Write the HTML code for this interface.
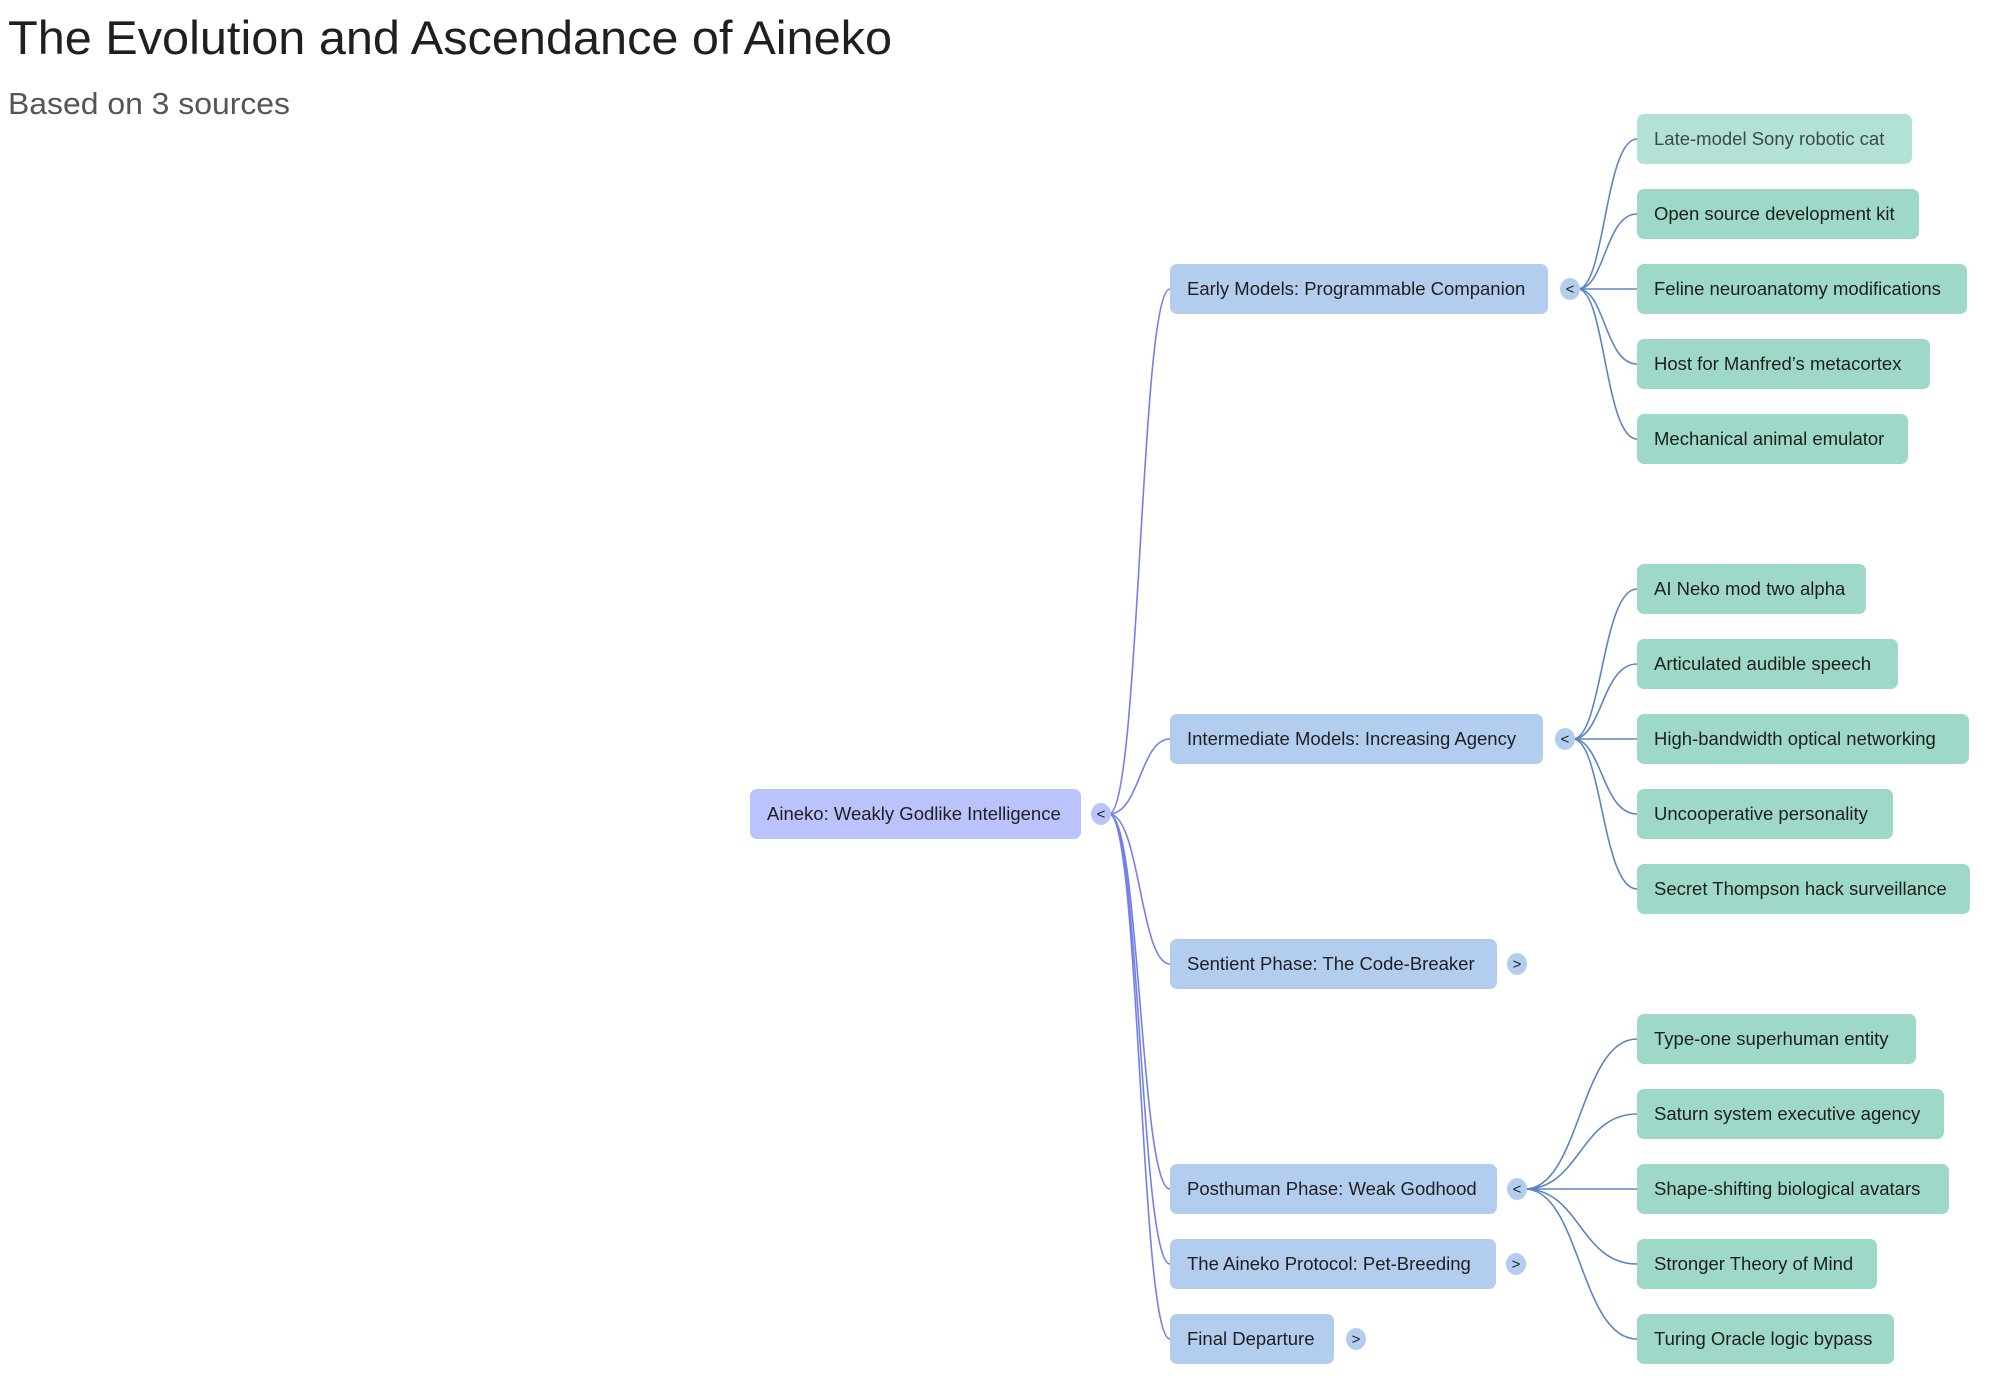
<!DOCTYPE html>
<html><head><meta charset="utf-8"><style>
html,body{margin:0;padding:0;background:#fff;}
svg{display:block;}
text{font-family:"Liberation Sans",sans-serif;}
.n{font-size:18.5px;fill:#1f1f1f;}
.t{font-size:15px;fill:#1f1f1f;}
</style></head><body>
<svg width="1992" height="1392" viewBox="0 0 1992 1392" xmlns="http://www.w3.org/2000/svg">
<text x="8" y="54" font-size="47" fill="#1f1f1f" textLength="884" lengthAdjust="spacingAndGlyphs">The Evolution and Ascendance of Aineko</text>
<text x="8" y="114" font-size="31" fill="#555" textLength="282" lengthAdjust="spacingAndGlyphs">Based on 3 sources</text>

<g fill="none" stroke="#7480e6" stroke-width="1.6">
<path d="M1109 814 C1140 814,1140 289,1170 289"/>
<path d="M1109 814 C1140 814,1140 739,1170 739"/>
<path d="M1109 814 C1140 814,1140 964,1170 964"/>
<path d="M1109 814 C1140 814,1140 1189,1170 1189"/>
<path d="M1109 814 C1140 814,1140 1264,1170 1264"/>
<path d="M1109 814 C1140 814,1140 1339,1170 1339"/>
</g>
<g fill="none" stroke="#5b85c2" stroke-width="1.6">
<path d="M1578 289 C1605 289,1605 139,1637 139"/>
<path d="M1578 289 C1605 289,1605 214,1637 214"/>
<path d="M1578 289 L1637 289"/>
<path d="M1578 289 C1605 289,1605 364,1637 364"/>
<path d="M1578 289 C1605 289,1605 439,1637 439"/>
<path d="M1573 739 C1602 739,1602 589,1637 589"/>
<path d="M1573 739 C1602 739,1602 664,1637 664"/>
<path d="M1573 739 L1637 739"/>
<path d="M1573 739 C1602 739,1602 814,1637 814"/>
<path d="M1573 739 C1602 739,1602 889,1637 889"/>
<path d="M1525 1189 C1580 1189,1580 1039,1637 1039"/>
<path d="M1525 1189 C1580 1189,1580 1114,1637 1114"/>
<path d="M1525 1189 L1637 1189"/>
<path d="M1525 1189 C1580 1189,1580 1264,1637 1264"/>
<path d="M1525 1189 C1580 1189,1580 1339,1637 1339"/>
</g>

<rect x="750" y="789" width="331" height="50" rx="7" fill="#bac3fb"/>
<text class="n" x="767" y="820">Aineko: Weakly Godlike Intelligence</text>
<ellipse cx="1101" cy="814" rx="10" ry="11" fill="#bac3fb"/><text class="t" x="1101" y="819" text-anchor="middle">&lt;</text>

<g fill="#b3cdee">
<rect x="1170" y="264" width="378" height="50" rx="7"/>
<rect x="1170" y="714" width="373" height="50" rx="7"/>
<rect x="1170" y="939" width="327" height="50" rx="7"/>
<rect x="1170" y="1164" width="327" height="50" rx="7"/>
<rect x="1170" y="1239" width="326" height="50" rx="7"/>
<rect x="1170" y="1314" width="164" height="50" rx="7"/>
<ellipse cx="1570" cy="289" rx="10" ry="11"/>
<ellipse cx="1565" cy="739" rx="10" ry="11"/>
<ellipse cx="1517" cy="964" rx="10" ry="11"/>
<ellipse cx="1517" cy="1189" rx="10" ry="11"/>
<ellipse cx="1516" cy="1264" rx="10" ry="11"/>
<ellipse cx="1356" cy="1339" rx="10" ry="11"/>
</g>
<text class="n" x="1187" y="295">Early Models: Programmable Companion</text>
<text class="n" x="1187" y="745">Intermediate Models: Increasing Agency</text>
<text class="n" x="1187" y="970">Sentient Phase: The Code-Breaker</text>
<text class="n" x="1187" y="1195">Posthuman Phase: Weak Godhood</text>
<text class="n" x="1187" y="1270">The Aineko Protocol: Pet-Breeding</text>
<text class="n" x="1187" y="1345">Final Departure</text>
<text class="t" x="1570" y="294" text-anchor="middle">&lt;</text>
<text class="t" x="1565" y="744" text-anchor="middle">&lt;</text>
<text class="t" x="1517" y="969" text-anchor="middle">&gt;</text>
<text class="t" x="1517" y="1194" text-anchor="middle">&lt;</text>
<text class="t" x="1516" y="1269" text-anchor="middle">&gt;</text>
<text class="t" x="1356" y="1344" text-anchor="middle">&gt;</text>

<g fill="#9dd8c8">
<rect x="1637" y="114" width="275" height="50" rx="7" fill="#b2e2d6"/>
<rect x="1637" y="189" width="282" height="50" rx="7"/>
<rect x="1637" y="264" width="330" height="50" rx="7"/>
<rect x="1637" y="339" width="293" height="50" rx="7"/>
<rect x="1637" y="414" width="271" height="50" rx="7"/>
<rect x="1637" y="564" width="229" height="50" rx="7"/>
<rect x="1637" y="639" width="261" height="50" rx="7"/>
<rect x="1637" y="714" width="332" height="50" rx="7"/>
<rect x="1637" y="789" width="256" height="50" rx="7"/>
<rect x="1637" y="864" width="333" height="50" rx="7"/>
<rect x="1637" y="1014" width="279" height="50" rx="7"/>
<rect x="1637" y="1089" width="307" height="50" rx="7"/>
<rect x="1637" y="1164" width="312" height="50" rx="7"/>
<rect x="1637" y="1239" width="240" height="50" rx="7"/>
<rect x="1637" y="1314" width="257" height="50" rx="7"/>
</g>
<text class="n" x="1654" y="145" style="fill:#3c4a46">Late-model Sony robotic cat</text>
<text class="n" x="1654" y="220">Open source development kit</text>
<text class="n" x="1654" y="295">Feline neuroanatomy modifications</text>
<text class="n" x="1654" y="370">Host for Manfred’s metacortex</text>
<text class="n" x="1654" y="445">Mechanical animal emulator</text>
<text class="n" x="1654" y="595">AI Neko mod two alpha</text>
<text class="n" x="1654" y="670">Articulated audible speech</text>
<text class="n" x="1654" y="745">High-bandwidth optical networking</text>
<text class="n" x="1654" y="820">Uncooperative personality</text>
<text class="n" x="1654" y="895">Secret Thompson hack surveillance</text>
<text class="n" x="1654" y="1045">Type-one superhuman entity</text>
<text class="n" x="1654" y="1120">Saturn system executive agency</text>
<text class="n" x="1654" y="1195">Shape-shifting biological avatars</text>
<text class="n" x="1654" y="1270">Stronger Theory of Mind</text>
<text class="n" x="1654" y="1345">Turing Oracle logic bypass</text>
</svg>
</body></html>
